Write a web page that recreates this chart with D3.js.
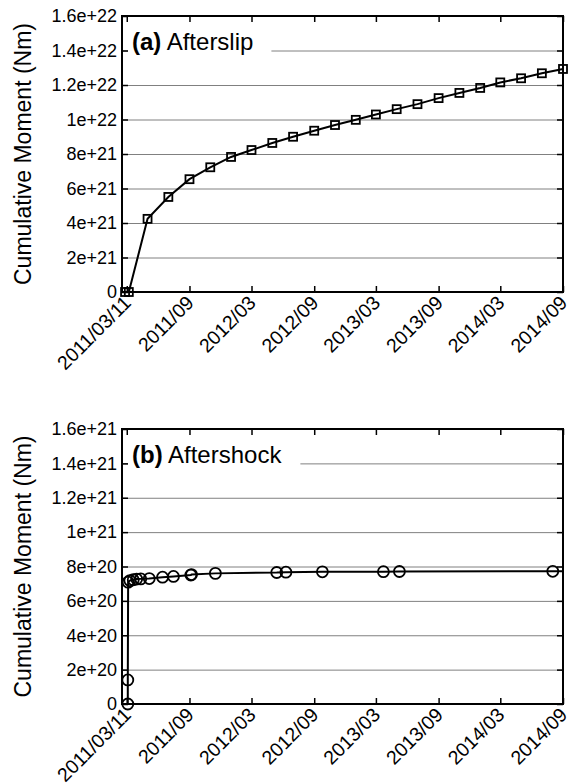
<!DOCTYPE html>
<html lang="en">
<head>
    <meta charset="UTF-8">
    <title>Cumulative Moment</title>
    <script src="https://d3js.org/d3.v7.min.js"></script>
    <style>
        body { margin: 0; background: #fff; }
        text { font-family: 'Liberation Sans', Arial, Helvetica, sans-serif; fill: #000; }
    </style>
</head>
<body>
    <div id="chart"></div>
    <script>
        // afterslip (moment in 1e21 Nm)
        const slipDates = ["2011-03-06", "2011-03-17", "2011-05-11", "2011-07-11", "2011-09-11", "2011-11-11",
            "2012-01-11", "2012-03-11", "2012-05-11", "2012-07-11", "2012-09-11", "2012-11-11",
            "2013-01-11", "2013-03-11", "2013-05-11", "2013-07-11", "2013-09-11", "2013-11-11",
            "2014-01-11", "2014-03-11", "2014-05-11", "2014-07-11", "2014-09-11"];
        const slipValues = [0, 0, 4.24, 5.51, 6.54, 7.23, 7.83, 8.23, 8.64, 9.0, 9.35, 9.68,
            9.98, 10.29, 10.6, 10.89, 11.24, 11.54, 11.83, 12.15, 12.39, 12.68, 12.93];

        // aftershocks (moment in 1e20 Nm)
        const shockDates = ["2011-03-14", "2011-03-14", "2011-03-15", "2011-03-20", "2011-03-30", "2011-04-09",
            "2011-04-21", "2011-05-16", "2011-06-24", "2011-07-26", "2011-09-15", "2011-09-17",
            "2011-11-26", "2012-05-24", "2012-06-20", "2012-10-05", "2013-04-02", "2013-05-19", "2014-08-12"];
        const shockValues = [0, 1.4, 7.09, 7.18, 7.23, 7.27, 7.28, 7.30, 7.38, 7.42, 7.50, 7.53,
            7.60, 7.65, 7.67, 7.69, 7.70, 7.71, 7.72];

        const xTickDates = ["2011-03-11", "2011-09-11", "2012-03-11", "2012-09-11",
            "2013-03-11", "2013-09-11", "2014-03-11", "2014-09-11"];
        const xTickLabels = ["2011/03/11", "2011/09", "2012/03", "2012/09", "2013/03", "2013/09", "2014/03", "2014/09"];

        const slipTicks = [0, 2e21, 4e21, 6e21, 8e21, 1e22, 1.2e22, 1.4e22, 1.6e22];
        const slipTickLabels = ["0", "2e+21", "4e+21", "6e+21", "8e+21", "1e+22", "1.2e+22", "1.4e+22", "1.6e+22"];
        const shockTicks = [0, 2e20, 4e20, 6e20, 8e20, 1e21, 1.2e21, 1.4e21, 1.6e21];
        const shockTickLabels = ["0", "2e+20", "4e+20", "6e+20", "8e+20", "1e+21", "1.2e+21", "1.4e+21", "1.6e+21"];

        const width = 570, height = 784;
        const left = 122, right = 563;
        const parse = d3.timeParse("%Y-%m-%d");

        const svg = d3.select("#chart")
            .append("svg")
            .attr("width", width)
            .attr("height", height);

        const x = d3.scaleTime()
            .domain([parse("2011-02-25"), parse("2014-09-11")])
            .range([left, right]);

        function panel(opt) {
            const y = d3.scaleLinear().domain([0, opt.yTicks[opt.yTicks.length - 1]]).range([opt.bottom, opt.top]);
            const g = svg.append("g");

            // gridlines
            g.append("g")
                .attr("transform", `translate(${left},0)`)
                .call(d3.axisLeft(y).tickValues(opt.yTicks.slice(1, -1)).tickSize(-(right - left)).tickFormat(""))
                .call(a => a.select(".domain").remove())
                .selectAll("line").attr("stroke", "#808080").attr("stroke-width", 1);

            // key box
            const key = g.append("g");
            const rect = key.append("rect").attr("fill", "#fff");
            const t = key.append("text")
                .attr("x", 132)
                .attr("y", opt.top + 34)
                .style("font-size", "24px");
            t.append("tspan").attr("font-weight", "bold").text(opt.tag);
            t.append("tspan").text(" " + opt.title);
            const bb = t.node().getBBox();
            rect.attr("x", left + 6).attr("y", opt.top + 10)
                .attr("width", bb.x + bb.width + 18 - left - 6)
                .attr("height", 32);

            // data line
            const pts = opt.dates.map((d, i) => ({date: parse(d), value: opt.values[i] * opt.unit}));
            const linePts = opt.extend ? pts.concat([{date: x.domain()[1], value: pts[pts.length - 1].value}]) : pts;
            g.append("path")
                .datum(linePts)
                .attr("fill", "none")
                .attr("stroke", "#000")
                .attr("stroke-width", 2)
                .attr("d", d3.line().x(d => x(d.date)).y(d => y(d.value)));

            if (opt.marker === "square") {
                g.selectAll(".pt")
                    .data(pts)
                    .join("rect")
                    .attr("x", d => x(d.date) - 4)
                    .attr("y", d => y(d.value) - 4)
                    .attr("width", 8)
                    .attr("height", 8)
                    .attr("fill", "none")
                    .attr("stroke", "#000")
                    .attr("stroke-width", 1.8);
            } else {
                g.selectAll(".pt")
                    .data(pts)
                    .join("circle")
                    .attr("cx", d => x(d.date))
                    .attr("cy", d => y(d.value))
                    .attr("r", 5.5)
                    .attr("fill", "none")
                    .attr("stroke", "#000")
                    .attr("stroke-width", 1.8);
            }

            // axes with inward ticks
            const tickStyle = a => {
                a.select(".domain").remove();
                a.selectAll("line").attr("stroke", "#000").attr("stroke-width", 1.5);
            };
            g.append("g")
                .attr("transform", `translate(${left},0)`)
                .call(d3.axisLeft(y).tickValues(opt.yTicks).tickSize(-6).tickPadding(5)
                    .tickFormat((d, i) => opt.yLabels[i]))
                .call(tickStyle)
                .selectAll("text").style("font-size", "18px").attr("fill", "#000");
            g.append("g")
                .attr("transform", `translate(${right},0)`)
                .call(d3.axisRight(y).tickValues(opt.yTicks).tickSize(-6).tickFormat(""))
                .call(tickStyle);
            g.append("g")
                .attr("transform", `translate(0,${opt.top})`)
                .call(d3.axisTop(x).tickValues(xTickDates.map(parse)).tickSize(-6).tickFormat(""))
                .call(tickStyle);
            g.append("g")
                .attr("transform", `translate(0,${opt.bottom})`)
                .call(d3.axisBottom(x).tickValues(xTickDates.map(parse)).tickSize(-6)
                    .tickFormat((d, i) => xTickLabels[i]))
                .call(tickStyle)
                .selectAll("text")
                .attr("x", null).attr("y", null).attr("dy", null)
                .attr("text-anchor", "end")
                .attr("transform", "translate(5,12) rotate(-45)")
                .style("font-size", "19.5px")
                .attr("fill", "#000");

            // frame
            g.append("rect")
                .attr("x", left).attr("y", opt.top)
                .attr("width", right - left).attr("height", opt.bottom - opt.top)
                .attr("fill", "none").attr("stroke", "#000").attr("stroke-width", 2);

            // y axis title
            g.append("text")
                .attr("transform", `translate(31,${(opt.top + opt.bottom) / 2}) rotate(-90)`)
                .attr("text-anchor", "middle")
                .style("font-size", "23px")
                .text("Cumulative Moment (Nm)");
        }

        panel({top: 16, bottom: 292, yTicks: slipTicks, yLabels: slipTickLabels, tag: "(a)", title: "Afterslip",
            dates: slipDates, values: slipValues, unit: 1e21, marker: "square", extend: false});
        panel({top: 429, bottom: 704, yTicks: shockTicks, yLabels: shockTickLabels, tag: "(b)", title: "Aftershock",
            dates: shockDates, values: shockValues, unit: 1e20, marker: "circle", extend: true});
    </script>
</body>
</html>
